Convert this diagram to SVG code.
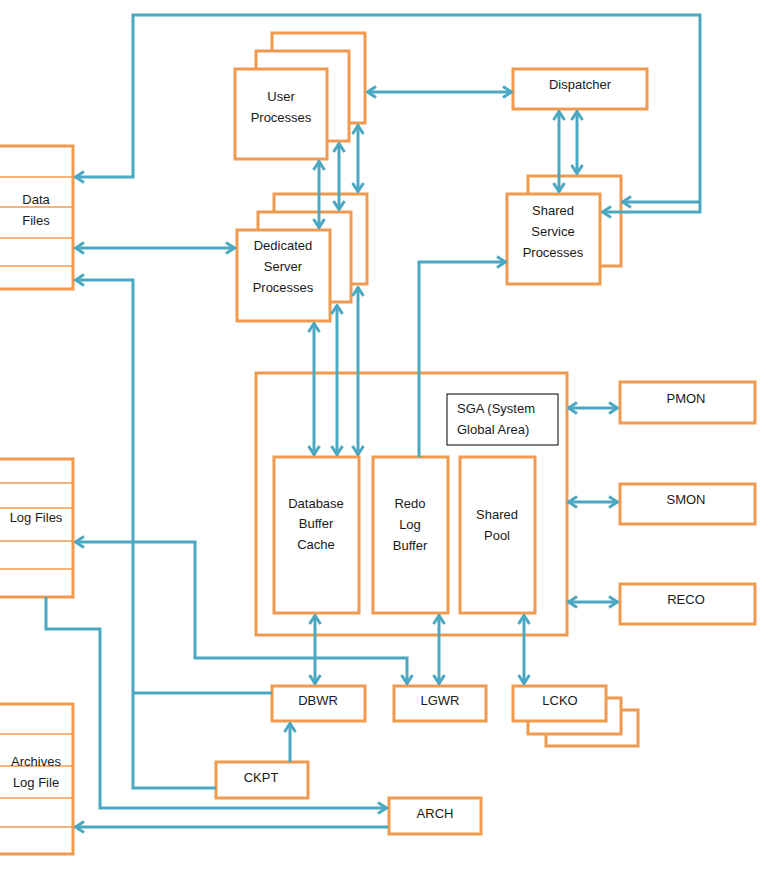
<svg xmlns="http://www.w3.org/2000/svg" width="774" height="870" viewBox="0 0 774 870">
<defs>
<style>
.n{fill:#fff;stroke:#F09A50;stroke-width:3}
.f{fill:none;stroke:#F09A50;stroke-width:1.5}
.t{font-family:"Liberation Sans",Arial,sans-serif;font-size:13px;fill:#1a1a1a;text-anchor:middle}
.tl{font-family:"Liberation Sans",Arial,sans-serif;font-size:13px;fill:#1a1a1a}
.c{fill:none;stroke:#4BA8C2;stroke-width:3}
.d{marker-start:url(#a);marker-end:url(#a)}
.e{marker-end:url(#a)}
</style>
<marker id="a" viewBox="0 0 12 14" refX="11" refY="7" markerWidth="12" markerHeight="14" markerUnits="userSpaceOnUse" orient="auto-start-reverse">
<path d="M2,1.5 L10.5,7 L2,12.5" fill="none" stroke="#4BA8C2" stroke-width="3"/>
</marker>
</defs>
<rect width="774" height="870" fill="#fff"/>

<g id="data-files">
<rect class="n" x="-2" y="146" width="75" height="143"/>
<path class="f" d="M0,177 H72 M0,207 H72 M0,238 H72 M0,266 H72"/>
<text class="t" x="36" y="204">Data</text>
<text class="t" x="36" y="225">Files</text>
</g>

<g id="log-files">
<rect class="n" x="-2" y="459" width="75" height="138"/>
<path class="f" d="M0,483 H72 M0,508 H72 M0,541 H72 M0,569 H72"/>
<text class="t" x="36" y="522">Log Files</text>
</g>

<g id="archives-log-file">
<rect class="n" x="-2" y="704" width="75" height="150"/>
<path class="f" d="M0,734 H72 M0,766 H72 M0,798 H72 M0,827 H72"/>
<text class="t" x="36" y="766">Archives</text>
<text class="t" x="36" y="787">Log File</text>
</g>

<g id="user-processes">
<rect class="n" x="272" y="33" width="93" height="90"/>
<rect class="n" x="256" y="51" width="93" height="90"/>
<rect class="n" x="235" y="69" width="92" height="90"/>
<text class="t" x="281" y="101">User</text>
<text class="t" x="281" y="122">Processes</text>
</g>

<g id="dedicated-server-processes">
<rect class="n" x="274" y="194" width="93" height="90"/>
<rect class="n" x="258" y="212" width="93" height="90"/>
<rect class="n" x="237" y="230" width="93" height="91"/>
<text class="t" x="283" y="250">Dedicated</text>
<text class="t" x="283" y="271">Server</text>
<text class="t" x="283" y="292">Processes</text>
</g>

<g id="dispatcher">
<rect class="n" x="513" y="69" width="134" height="40"/>
<text class="t" x="580" y="89">Dispatcher</text>
</g>

<g id="shared-service-processes">
<rect class="n" x="528" y="176" width="93" height="90"/>
<rect class="n" x="507" y="194" width="93" height="90"/>
<text class="t" x="553" y="215">Shared</text>
<text class="t" x="553" y="236">Service</text>
<text class="t" x="553" y="257">Processes</text>
</g>

<g id="sga">
<rect class="n" x="256" y="373" width="311" height="262" fill="none"/>
<rect x="447" y="394" width="111" height="51" fill="#fff" stroke="#000" stroke-width="1"/>
<text class="tl" x="457" y="413">SGA (System</text>
<text class="tl" x="457" y="434">Global Area)</text>
</g>

<g id="database-buffer-cache">
<rect class="n" x="274" y="457" width="85" height="156"/>
<text class="t" x="316" y="508">Database</text>
<text class="t" x="316" y="528">Buffer</text>
<text class="t" x="316" y="549">Cache</text>
</g>

<g id="redo-log-buffer">
<rect class="n" x="373" y="457" width="75" height="156"/>
<text class="t" x="410" y="508">Redo</text>
<text class="t" x="410" y="529">Log</text>
<text class="t" x="410" y="550">Buffer</text>
</g>

<g id="shared-pool">
<rect class="n" x="460" y="457" width="75" height="156"/>
<text class="t" x="497" y="519">Shared</text>
<text class="t" x="497" y="540">Pool</text>
</g>

<g id="pmon">
<rect class="n" x="620" y="382" width="135" height="41"/>
<text class="t" x="686" y="403">PMON</text>
</g>
<g id="smon">
<rect class="n" x="620" y="484" width="135" height="40"/>
<text class="t" x="686" y="504">SMON</text>
</g>
<g id="reco">
<rect class="n" x="620" y="584" width="135" height="40"/>
<text class="t" x="686" y="604">RECO</text>
</g>

<g id="dbwr">
<rect class="n" x="272" y="686" width="93" height="35"/>
<text class="t" x="318" y="705">DBWR</text>
</g>
<g id="lgwr">
<rect class="n" x="394" y="686" width="92" height="35"/>
<text class="t" x="440" y="705">LGWR</text>
</g>
<g id="lcko">
<rect class="n" x="546" y="710" width="92" height="36"/>
<rect class="n" x="528" y="698" width="93" height="36"/>
<rect class="n" x="513" y="686" width="93" height="35"/>
<text class="t" x="560" y="705">LCKO</text>
</g>
<g id="ckpt">
<rect class="n" x="216" y="762" width="92" height="36"/>
<text class="t" x="261" y="782">CKPT</text>
</g>
<g id="arch">
<rect class="n" x="389" y="798" width="92" height="36"/>
<text class="t" x="435" y="818">ARCH</text>
</g>

<g id="connectors">
<path class="c d" d="M75,177 H133 V15 H700 V212 H602"/>
<path class="c e" d="M700,202 H622"/>
<path class="c d" d="M367,92 H512"/>
<path class="c d" d="M75,248 H235"/>
<path class="c" d="M75,280 H133 V788 H216" style="marker-start:url(#a)"/>
<path class="c" d="M133,693 H272"/>
<path class="c d" d="M319,161 V228"/>
<path class="c d" d="M339,143 V210"/>
<path class="c d" d="M358,125 V192"/>
<path class="c d" d="M559,111 V192"/>
<path class="c d" d="M577,111 V174"/>
<path class="c d" d="M314,323 V455"/>
<path class="c d" d="M337,305 V455"/>
<path class="c d" d="M358,287 V455"/>
<path class="c e" d="M419,457 V262 H506"/>
<path class="c d" d="M568,408 H618"/>
<path class="c d" d="M568,502 H618"/>
<path class="c d" d="M568,602 H618"/>
<path class="c d" d="M315,615 V684"/>
<path class="c d" d="M439,615 V684"/>
<path class="c d" d="M524,615 V684"/>
<path class="c d" d="M75,542 H195 V658 H407 V684"/>
<path class="c e" d="M46,597 V629 H100 V808 H387"/>
<path class="c e" d="M388,827 H75"/>
<path class="c e" d="M290,762 V723"/>
</g>
</svg>
